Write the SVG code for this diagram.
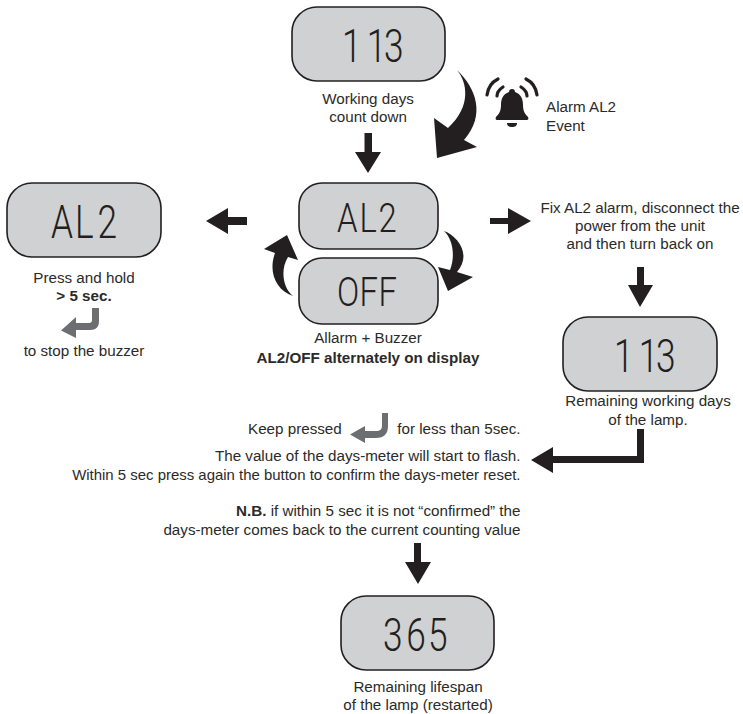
<svg xmlns="http://www.w3.org/2000/svg" width="743" height="714" viewBox="0 0 743 714">
<style>
text{font-family:"Liberation Sans",Arial,sans-serif;font-size:15.2px;fill:#2b2a29}
.c{text-anchor:middle}.e{text-anchor:end}.b{font-weight:bold}
.lcd{fill:#cfd1d2;stroke:#231f20;stroke-width:1.6}
text.d{font-family:Roboto,"DejaVu Sans",sans-serif;font-size:47px;font-weight:300;fill:#231f20;text-anchor:start}
text.m{font-size:41px}
.k{fill:#231f20}.g{fill:#6d6e71}
</style>
<rect width="743" height="714" fill="#fff"/>
<g id="node-top"><rect class="lcd" x="292" y="7" width="153" height="74" rx="25"/><text class="d" transform="translate(342,62) scale(.75,1)" x="0 33 56">113</text><text class="c" x="368" y="104">Working days</text><text class="c" x="368" y="122">count down</text></g>
<g id="node-bell"><path class="k" d="M512,89c-2,0-3,1-3,3c-6,2-8,7-8,13c0,6-2,9-5,12c-1,2 0,3 2,3h28c2,0 3-1 2-3c-3-3-5-6-5-12c0-6-2-11-8-13c0-2-1-3-3-3z"/><path class="k" d="M507,123h10c0,3-2,4-5,4s-5-1-5-4z"/><g fill="none" stroke="#231f20" stroke-width="3.2" stroke-linecap="round"><path d="M487,95C488,87 492,82 498,79"/><path d="M497,96C497,92 500,89 503,87"/><path d="M537,95C536,87 532,82 526,79"/><path d="M527,96C527,92 524,89 521,87"/></g><text x="546" y="112">Alarm AL2</text><text x="546" y="131">Event</text></g>
<g id="node-left"><rect class="lcd" x="7" y="183" width="154" height="74" rx="25"/><text class="d" transform="translate(51,238) scale(.75,1)" x="0 32 62">AL2</text><text class="c" x="84" y="283">Press and hold</text><text class="c b" x="84" y="301">&gt; 5 sec.</text><path class="g" d="M92,308h7v13c0,6-3,9-9,9H76v8L61,330.500L76,317v6h13c2,0 3-1 3-3z"/><text class="c" x="84" y="356">to stop the buzzer</text></g>
<g id="node-al2"><rect class="lcd" x="299" y="183" width="139" height="66" rx="23"/><text class="d m" transform="translate(337,232) scale(.8,1)" x="0 28 52">AL2</text></g>
<g id="node-off"><rect class="lcd" x="299" y="258" width="139" height="66" rx="23"/><text class="d m" transform="translate(337,306) scale(.8,1)" x="0 28 52">OFF</text><text class="c" x="368" y="343">Allarm + Buzzer</text><text class="c b" x="368" y="363">AL2/OFF alternately on display</text></g>
<g id="node-fix"><text class="c" x="640" y="213">Fix AL2 alarm, disconnect the</text><text class="c" x="640" y="231">power from the unit</text><text class="c" x="640" y="249">and then turn back on</text></g>
<g id="node-right"><rect class="lcd" x="563" y="317" width="154" height="74" rx="25"/><text class="d" transform="translate(614,372) scale(.75,1)" x="0 33 56">113</text><text class="c" x="648" y="406">Remaining working days</text><text class="c" x="648" y="425">of the lamp.</text></g>
<g id="node-reset"><text x="248" y="434">Keep pressed</text><path class="g" d="M382,413h6v13c0,8-4,12-12,12H365v5L350,434.500L365,426v5h11c4,0 6-2 6-5z"/><text class="e" x="520.500" y="434">for less than 5sec.</text><text class="e" x="520.500" y="461">The value of the days-meter will start to flash.</text><text class="e" x="520.500" y="480" style="font-size:14.95px">Within 5 sec press again the button to confirm the days-meter reset.</text><text class="e" x="520.500" y="516"><tspan class="b">N.B.</tspan> if within 5 sec it is not “confirmed” the</text><text class="e" x="520.500" y="535">days-meter comes back to the current counting value</text></g>
<g id="node-bottom"><rect class="lcd" x="341" y="596" width="153" height="74" rx="25"/><text class="d" transform="translate(383,651) scale(.75,1)" x="0 31 60">365</text><text class="c" x="418" y="692">Remaining lifespan</text><text class="c" x="418" y="710">of the lamp (restarted)</text></g>
<g id="connectors" class="k">
<path d="M457,70C467,82 472,106 448,128L434,118L437,158L477,147L464,140C486,115 476,88 457,70Z"/>
<path d="M364.500,133H372V152H381L368,173L355,152H364.500Z"/>
<path d="M247,217V225H228V234L206,221L228,208V217Z"/>
<path d="M490,218H508V208L531,221L508,234V224H490Z"/>
<path d="M637,267H644V285H653L640,307L628,285H637Z"/>
<path d="M637,429H644V463H553V473L531,460L553,447V456H637Z"/>
<path d="M414,543H421V562H431L418,584L405,562H414Z"/>
<path d="M444,231C452,238 456,255 450,270L438,267L448,291L473,277L457,272C472,255 458,236 444,231Z"/>
<path d="M287,235L264,249L275,253C268,272 276,290 293,296C283,288 280,270 288,257L298,260Z"/>
</g>
</svg>
